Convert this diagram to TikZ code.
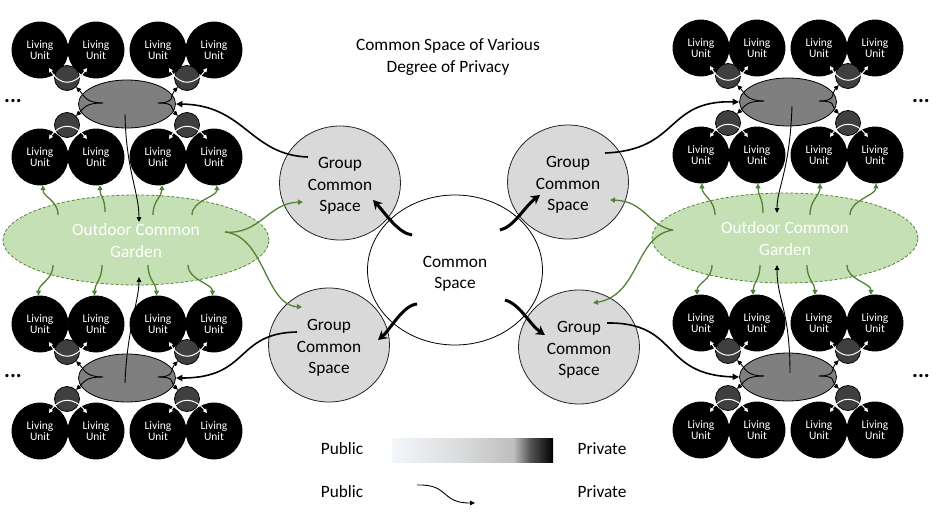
\documentclass[tikz,border=0pt]{standalone}
\usepackage{fontspec}
\setmainfont{Carlito}
\usetikzlibrary{shapes.geometric,arrows.meta,calc}
\definecolor{grpfill}{HTML}{D9D9D9}
\definecolor{ellfill}{HTML}{7F7F7F}
\definecolor{scfill}{HTML}{3F3F3F}
\definecolor{gardenfill}{HTML}{C5E0B4}
\definecolor{gardenline}{HTML}{548235}
\definecolor{gA}{HTML}{F3F6FA}
\definecolor{gB}{HTML}{DADBDC}
\definecolor{gC}{HTML}{BEBEBE}
\definecolor{gD}{HTML}{575757}
\newcommand\bigfont{\fontsize{17.3}{21.5}\selectfont}
\newcommand\dnstrut[1]{\rule{0pt}{#1pt}}
\tikzset{
  unit/.style={circle, fill=black, draw=black, line width=0.8pt, minimum size=56pt, inner sep=0pt, text=white, align=center, font=\fontsize{11.5}{11.5}\selectfont},
  smallc/.style={circle, fill=scfill, draw=black, line width=0.8pt, minimum size=25pt, inner sep=0pt},
  clell/.style={ellipse, fill=ellfill, draw=black, line width=0.8pt, minimum width=97pt, minimum height=48pt, inner sep=0pt},
  grp/.style={ellipse, fill=grpfill, draw=black!85, line width=0.8pt, minimum width=121pt, minimum height=114pt, inner sep=0pt, align=center, font=\bigfont},
  cspace/.style={ellipse, fill=white, draw=black, line width=0.8pt, minimum width=175pt, minimum height=150pt, inner sep=0pt, align=center, font=\bigfont},
  garden/.style={ellipse, fill=gardenfill, draw=gardenline, dash pattern=on 3pt off 2pt, line width=0.8pt, minimum width=266pt, minimum height=90pt, inner sep=0pt, align=center, text=white, font=\bigfont},
  lbl/.style={align=center, font=\bigfont, inner sep=0pt},
  dots/.style={font=\fontsize{22}{22}\selectfont\bfseries, inner sep=0pt},
  thinarr/.style={draw=black, line width=0.9pt, -{Triangle[length=5pt,width=4.5pt]}},
  medarr/.style={draw=black, line width=1.6pt, -{Triangle[length=6.5pt,width=6pt]}},
  thickarr/.style={draw=black, line width=3pt, -{Stealth[length=9pt,width=10pt]}},
  greenarr/.style={draw=gardenline, line width=1.3pt, -{Triangle[length=5pt,width=5pt]}},
  whitearr/.style={draw=white, line width=1pt, {Triangle[length=4pt,width=4pt]}-{Triangle[length=4pt,width=4pt]}},
}
\newcommand\mycluster[3]{%
  \foreach \i/\dx in {1/-87,2/-31,3/31,4/87}{%
    \node[unit] (#1a\i) at ({#2+(\dx)},{#3-54}) {Living\\Unit};
    \node[unit] (#1b\i) at ({#2+(\dx)},{#3+53}) {Living\\Unit};
  }
  \node[smallc] (#1ul) at ({#2-60},{#3-26}) {};
  \node[smallc] (#1ur) at ({#2+60},{#3-26}) {};
  \node[smallc] (#1ll) at ({#2-60},{#3+21}) {};
  \node[smallc] (#1lr) at ({#2+60},{#3+21}) {};
  \node[clell] (#1ell) at (#2,#3) {};
  \coordinate (#1fl) at ({#2-24},{#3-1});
  \coordinate (#1fr) at ({#2+31},{#3-1});
  \draw[thinarr] (#1fl) .. controls +(-18,0) and +(8,8) .. (#1ul.-45);
  \draw[thinarr] (#1fl) .. controls +(-18,0) and +(8,-8) .. (#1ll.45);
  \draw[thinarr] (#1fr) .. controls +(18,0) and +(-8,8) .. (#1ur.-135);
  \draw[thinarr] (#1fr) .. controls +(18,0) and +(-8,-8) .. (#1lr.135);
  \foreach \sn/\sx in {ul/-60,ur/60}{%
    \coordinate (#1\sn1) at ({#2+(\sx)-18},{#3-36});
    \coordinate (#1\sn2) at ({#2+(\sx)+20},{#3-36});
    \draw[whitearr] (#1\sn1) .. controls +(11,18) and +(-13,18) .. (#1\sn2);
  }
  \foreach \sn/\sx in {ll/-60,lr/60}{%
    \coordinate (#1\sn1) at ({#2+(\sx)-18},{#3+35});
    \coordinate (#1\sn2) at ({#2+(\sx)+20},{#3+35});
    \draw[whitearr] (#1\sn1) .. controls +(11,-16) and +(-13,-16) .. (#1\sn2);
  }
}
\begin{document}
\begin{tikzpicture}[x=1pt,y=-1pt]
\useasboundingbox (0,0) rectangle (938,512);
\node[lbl] (title) at (448,57) {Common Space of Various\\Degree of Privacy};
\mycluster{TL}{127}{104}
\mycluster{BL}{127}{378}
\mycluster{TR}{788}{102}
\mycluster{BR}{788}{377}
\node[dots] (d1) at (13,101) {...};
\node[dots] (d2) at (13,376) {...};
\node[dots] (d3) at (921,101) {...};
\node[dots] (d4) at (921,376) {...};
\node[garden] (gl) at (136,240) {\dnstrut{13}Outdoor Common\\Garden};
\node[garden] (gr) at (785,238) {\dnstrut{13}Outdoor Common\\Garden};
\node[grp] (gtl) at (340,183) {\dnstrut{17}Group\\Common\\Space};
\node[grp] (gbl) at (329,345) {\dnstrut{17}Group\\Common\\Space};
\node[grp] (gtr) at (568,182) {\dnstrut{17}Group\\Common\\Space};
\node[grp] (gbr) at (579,347) {\dnstrut{17}Group\\Common\\Space};
\node[cspace] (cmn) at (455,270) {\dnstrut{19}Common\\Space};
% green arrows garden -> units
\foreach \sx/\sy/\t/\ang in {-78/-25/1/-84,-31/-28/2/-82,17/-25/3/-82,56/-25/4/-84}{
  \draw[greenarr] ($(gl)+(\sx,\sy)$) .. controls +(0,-15) and +(0,12) .. (TLb\t.\ang);
}
\foreach \sx/\sy/\t/\ang in {-83/25/1/93,-34/25/2/93,12/25/3/93,52/25/4/93}{
  \draw[greenarr] ($(gl)+(\sx,\sy)$) .. controls +(0,15) and +(0,-12) .. (BLa\t.\ang);
}
\foreach \sx/\sy/\t/\ang in {-70/-23/1/-88,-22/-25/2/-88,25/-23/3/-88,65/-23/4/-88}{
  \draw[greenarr] ($(gr)+(\sx,\sy)$) .. controls +(0,-15) and +(0,12) .. (TRb\t.\ang);
}
\foreach \sx/\sy/\t/\ang in {-73/27/1/98,-25/27/2/98,22/27/3/98,62/27/4/98}{
  \draw[greenarr] ($(gr)+(\sx,\sy)$) .. controls +(0,15) and +(0,-12) .. (BRa\t.\ang);
}
% green arrows garden -> group spaces
\coordinate (gls) at ($(gl)+(89,-8)$);
\coordinate (grs) at ($(gr)+(-112,-8)$);
\draw[greenarr] (gls) .. controls (260,235) and (268,203) .. ($(gtl)+(-37,19)$);
\draw[greenarr] (gls) .. controls (265,236) and (265,305) .. ($(gbl)+(-27,-38)$);
\draw[greenarr] (grs) .. controls (648,226) and (645,201) .. ($(gtr)+(42,18)$);
\draw[greenarr] (grs) .. controls (635,235) and (640,295) .. ($(gbr)+(14,-44)$);
% black lines ellipse -> garden
\coordinate (TLc) at (125,114);
\coordinate (BLc) at (125,383);
\coordinate (TRc) at (792,106);
\coordinate (BRc) at (790,373);
\draw[thinarr] (TLc) .. controls (126,170) and (139,192) .. ($(gl)+(3,-18)$);
\draw[thinarr] (BLc) .. controls (127,330) and (139,300) .. ($(gl)+(3,37)$);
\draw[thinarr] (TRc) .. controls (790,170) and (777,188) .. ($(gr)+(-8,-25)$);
\draw[thinarr] (BRc) .. controls (790,310) and (777,300) .. ($(gr)+(-8,27)$);
% group -> cluster ellipse
\draw[medarr] ($(gtl)+(-32,-26)$) .. controls (250,155) and (245,105) .. (TLell.east);
\draw[medarr] ($(gbl)+(-32,-13)$) .. controls (235,333) and (250,378) .. (BLell.east);
\draw[medarr] ($(gtr)+(37,-29)$) .. controls (680,150) and (665,100) .. (TRell.west);
\draw[medarr] ($(gbr)+(28,-24)$) .. controls (680,322) and (660,375) .. (BRell.west);
% common space -> groups
\draw[thickarr] ($(cmn)+(-43,-35)$) .. controls (398,233) and (386,214) .. ($(gtl)+(33,17)$);
\draw[thickarr] ($(cmn)+(-38,34)$) .. controls (403,305) and (390,330) .. ($(gbl)+(49,-5)$);
\draw[thickarr] ($(cmn)+(45,-40)$) .. controls (514,227) and (524,207) .. ($(gtr)+(-28,13)$);
\draw[thickarr] ($(cmn)+(50,30)$) .. controls (520,304) and (530,325) .. ($(gbr)+(-34,-12)$);
% legend
\node[lbl] (pub1) at (342,449) {Public};
\node[lbl] (pri1) at (602,449) {Private};
\node[lbl] (pub2) at (342,492) {Public};
\node[lbl] (pri2) at (602,492) {Private};
\shade[left color=gA,right color=gB] (392,438) rectangle (461,462);
\shade[left color=gB,right color=gC] (460.5,438) rectangle (514,462);
\shade[left color=gC,right color=gD] (513.5,438) rectangle (530,462);
\shade[left color=gD,right color=black] (529.5,438) rectangle (553,462);
\coordinate (la) at (417,485);
\coordinate (lb) at (475,503);
\draw[thinarr] (la) .. controls (450,484) and (440,503) .. (lb);
\end{tikzpicture}
\end{document}
